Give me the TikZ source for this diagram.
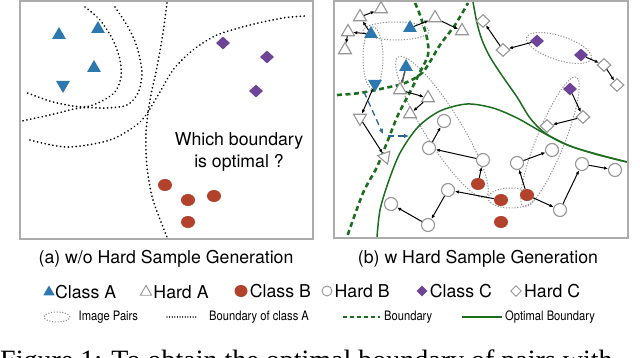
\documentclass[tikz,border=0pt]{standalone}
\usepackage{fontspec}
\setmainfont{Liberation Serif}
\newfontfamily\helv{TeX Gyre Heros}
\newfontfamily\helvnarrow[FakeStretch=0.86]{TeX Gyre Heros}
\usetikzlibrary{shapes.geometric, arrows.meta, positioning, backgrounds}
\definecolor{clsblue}{RGB}{46,120,176}
\definecolor{clsred}{RGB}{178,66,44}
\definecolor{clspurple}{RGB}{110,68,150}
\definecolor{bndgreen}{RGB}{28,110,30}
\definecolor{hardgray}{RGB}{150,150,150}
\definecolor{framegray}{RGB}{172,172,172}

\begin{document}
\begin{tikzpicture}[
  x=1pt, y=-1pt,
  clsA/.style={regular polygon, regular polygon sides=3, fill=clsblue, inner sep=0pt, minimum size=16pt},
  clsAdown/.style={clsA, shape border rotate=180},
  hardA/.style={regular polygon, regular polygon sides=3, draw=hardgray, fill=white,
               line width=1.1pt, inner sep=0pt, minimum size=15pt},
  hardAdown/.style={hardA, shape border rotate=180},
  clsB/.style={ellipse, fill=clsred, inner sep=0pt, minimum width=14pt, minimum height=12pt},
  hardB/.style={circle, draw=hardgray, fill=white, line width=1.1pt, inner sep=0pt, minimum size=13pt},
  clsC/.style={diamond, fill=clspurple, inner sep=0pt, minimum width=14pt, minimum height=13pt},
  hardC/.style={diamond, draw=hardgray, fill=white, line width=1.1pt, inner sep=0pt,
               minimum width=14pt, minimum height=13pt},
  pair/.style={ellipse, draw=gray!85, line width=1pt, dash pattern=on 1.2pt off 1.6pt, inner sep=0pt},
  bnd/.style={line width=1.9pt, dash pattern=on 0.01pt off 3.9pt, line cap=round},
  gbnd/.style={draw=bndgreen, line width=2.6pt, dash pattern=on 5pt off 3.5pt},
  obnd/.style={draw=bndgreen, line width=1.5pt},
  arr/.style={-{Latex[length=4pt, width=3.5pt]}, line width=1pt, black},
  pull/.style={-{Latex[length=5pt, width=4.5pt]}, draw=clsblue!85!black, line width=1.3pt,
               dash pattern=on 6pt off 4pt},
  panel/.style={draw=framegray, line width=1.5pt, inner sep=0pt},
  lab/.style={font=\helv\fontsize{17.7}{22}\selectfont, align=center},
  legtxt/.style={font=\helv\fontsize{17.7}{21}\selectfont, inner sep=0pt, anchor=west},
  small/.style={font=\helvnarrow\fontsize{13}{15}\selectfont, inner sep=0pt, anchor=west},
]
\path[use as bounding box] (0,0) rectangle (640,358);

\node[panel, minimum width=293pt, minimum height=238pt] (panA) at (166.5,120) {};
\node[panel, minimum width=294pt, minimum height=237pt] (panB) at (481,119.5) {};

\node[clsA] (pa1) at (59,35) {};
\node[clsA] (pa2) at (98,29) {};
\node[clsA] (pa3) at (94,68) {};
\node[clsAdown] (pa4) at (63,85) {};
\node[clsC] (pc1) at (223,43) {};
\node[clsC] (pc2) at (267,57) {};
\node[clsC] (pc3) at (256,91) {};
\node[clsB] (pb1) at (165,185) {};
\node[clsB] (pb2) at (188,200) {};
\node[clsB] (pb3) at (214,196) {};
\node[clsB] (pb4) at (188,222) {};
\node[lab] (ask) at (239,151.5) {Which boundary\\is optimal ?};

\node[clsA] (a1) at (371,34) {};
\node[clsA] (a2) at (410,28) {};
\node[clsA] (a3) at (406,67) {};
\node[clsAdown] (a4) at (375,84) {};
\node[hardA] (ha1) at (381,9) {};
\node[hardA] (ha2) at (360,17) {};
\node[hardA] (ha3) at (348,32) {};
\node[hardA] (ha4) at (345,50) {};
\node[hardA] (ha5) at (435,18) {};
\node[hardA] (ha6) at (462,31) {};
\node[hardA] (ha7) at (400,90) {};
\node[hardA] (ha8) at (428,98) {};
\node[hardA] (ha9) at (410,114) {};
\node[hardAdown] (ha10) at (360,118) {};
\node[hardA, shape border rotate=200] (ha11) at (385,157) {};

\node[clsB] (b1) at (478,184) {};
\node[clsB] (b2) at (501,200) {};
\node[clsB] (b3) at (527,195) {};
\node[clsB] (b4) at (501,222) {};
\node[hardB] (hb1) at (444,121) {};
\node[hardB] (hb2) at (429,148) {};
\node[hardB] (hb3) at (483,160) {};
\node[hardB] (hb4) at (448,190) {};
\node[hardB] (hb5) at (391,204) {};
\node[hardB] (hb6) at (428,225) {};
\node[hardB] (hb7) at (517,163) {};
\node[hardB] (hb8) at (552,150) {};
\node[hardB] (hb9) at (560,210) {};
\node[hardB] (hb10) at (582,164) {};
\node[hardB] (hb11) at (615,170) {};

\node[clsC] (c1) at (537,41) {};
\node[clsC] (c2) at (581,55) {};
\node[clsC] (c3) at (570,89) {};
\node[hardC] (hc1) at (483,21) {};
\node[hardC] (hc2) at (503,50) {};
\node[hardC] (hc3) at (604,65) {};
\node[hardC] (hc4) at (617,85) {};
\node[hardC] (hc5) at (583,117) {};
\node[hardC] (hc6) at (547,126) {};

\begin{scope}[on background layer]
\fill[white] (0,0) rectangle (640,358);
\draw[bnd] plot[smooth] coordinates {(85,7) (100,20) (113,40) (120,60) (121,77) (115,92) (100,102) (83,107) (53,102) (25,92)};
\draw[bnd] plot[smooth] coordinates {(115,7) (128,27) (137,47) (142,73) (138,93) (127,105) (107,108) (80,108) (50,115) (22,121)};
\draw[bnd] plot[smooth] coordinates {(30,140) (67,147) (110,140) (140,122) (157,97) (173,70) (193,50) (217,35) (250,25) (283,18) (305,16)};
\draw[bnd] plot[smooth] coordinates {(167,3) (163,33) (157,67) (150,100) (146,133) (147,167) (153,200) (167,237)};

\node[pair, minimum width=66pt, minimum height=18pt] (pr1) at (396,31) {};
\node[pair, minimum width=20pt, minimum height=62pt] (pr2) at (373,58) {};
\node[pair, minimum width=165pt, minimum height=36pt, rotate=-58] (pr3) at (442,127) {};
\node[pair, minimum width=68pt, minimum height=24pt, rotate=-18] (pr4) at (559,48) {};
\node[pair, minimum width=140pt, minimum height=28pt, rotate=68] (pr5) at (550,142) {};
\node[pair, minimum width=46pt, minimum height=20pt] (pr6) at (511,198) {};

\draw[gbnd] plot[smooth] coordinates {(337,95) (360,93) (385,88) (405,83) (423,72) (440,45) (455,25) (468,3)};
\draw[gbnd] plot[smooth] coordinates {(415,3) (420,15) (427,38) (428,55) (420,72) (410,92) (398,115) (388,140) (377,167) (363,193) (347,237)};
\draw[obnd] plot[smooth] coordinates {(473,2) (477,23) (482,40) (490,57) (503,77) (517,97) (530,118) (545,133) (570,146) (600,155) (627,162)};
\draw[obnd] plot[smooth] coordinates {(377,237) (380,210) (388,183) (400,153) (418,127) (440,111) (467,104) (493,108) (517,118) (540,131) (565,144) (595,154) (627,162)};
\end{scope}

\draw[arr] (a1) -- (ha2);
\draw[arr] (a1) -- (ha3);
\draw[arr] (ha3) -- (ha4);
\draw[arr] (ha2) -- (ha1);
\draw[arr] (a2) -- (ha5);
\draw[arr] (ha5) -- (ha6);
\draw[arr, draw=black!65, line width=1.6pt] (a3) -- (ha7);
\draw[arr] (ha7) -- (ha8);
\draw[arr] (ha8) -- (ha9);
\draw[arr] (a4) -- (ha10);
\draw[arr] (ha10) -- (ha11);

\coordinate (mv1) at (364,92);
\coordinate (mv2) at (383,134);
\coordinate (mv3) at (388,136);
\coordinate (mv4) at (409,136);
\draw[pull] (mv1) -- (mv2);
\draw[pull] (mv3) -- (mv4);

\draw[arr] (b1) -- (hb3);
\draw[arr] (hb3) -- (hb2);
\draw[arr] (hb2) -- (hb1);
\draw[arr] (b2) -- (hb4);
\draw[arr] (hb4) -- (hb6);
\draw[arr] (hb6) -- (hb5);
\draw[arr] (b3) -- (hb7);
\draw[arr] (hb7) -- (hb8);
\draw[arr] (b3) -- (hb9);
\draw[arr] (hb9) -- (hb10);
\draw[arr] (hb10) -- (hb11);

\draw[arr] (c1) -- (hc2);
\draw[arr] (hc2) -- (hc1);
\draw[arr] (c2) -- (hc3);
\draw[arr] (hc3) -- (hc4);
\draw[arr] (c3) -- (hc5);
\draw[arr] (hc5) -- (hc6);

\node[lab] (labA) at (166,259) {(a) w/o Hard Sample Generation};
\node[lab] (labB) at (478,259) {(b) w Hard Sample Generation};

\node[clsA, minimum size=13pt] (lgA) at (49,292) {};
\node[legtxt, right=2pt of lgA] (lgAtxt) {Class A};
\node[hardA, minimum size=13pt, line width=0.9pt] (lgHA) at (146,292) {};
\node[legtxt, right=3pt of lgHA] (lgHAtxt) {Hard A};
\node[clsB, minimum width=13pt, minimum height=12pt] (lgB) at (241,291) {};
\node[legtxt, right=2pt of lgB] (lgBtxt) {Class B};
\node[hardB, minimum size=10pt, line width=0.9pt] (lgHB) at (327,291) {};
\node[legtxt, right=2pt of lgHB] (lgHBtxt) {Hard B};
\node[clsC, minimum width=11pt, minimum height=11pt] (lgC) at (422,291) {};
\node[legtxt, right=2pt of lgC] (lgCtxt) {Class C};
\node[hardC, minimum width=11pt, minimum height=11pt, line width=0.9pt] (lgHC) at (516,291) {};
\node[legtxt, right=2pt of lgHC] (lgHCtxt) {Hard C};

\node[pair, minimum width=26pt, minimum height=10pt] (lgpair) at (57,317) {};
\node[small, right=8pt of lgpair] (lgpairtxt) {Image Pairs};
\coordinate (lgd1) at (167,317);
\coordinate (lgd2) at (198,317);
\draw[bnd, line width=1.2pt, dash pattern=on 0.01pt off 2.6pt] (lgd1) -- (lgd2);
\node[small, right=11pt of lgd2] (lgdtxt) {Boundary of class A};
\coordinate (lgg1) at (343,317);
\coordinate (lgg2) at (380,317);
\draw[gbnd, line width=2.2pt, dash pattern=on 4pt off 3pt] (lgg1) -- (lgg2);
\node[small, right=4pt of lgg2] (lggtxt) {Boundary};
\coordinate (lgo1) at (462,317);
\coordinate (lgo2) at (502,317);
\draw[obnd] (lgo1) -- (lgo2);
\node[small, right=3pt of lgo2] (lgotxt) {Optimal Boundary};

\node[anchor=base west, inner sep=0pt, font=\fontsize{28}{30}\selectfont] (caption) at (0,369)
  {Figure 1: To obtain the optimal boundary of pairs with};
\end{tikzpicture}
\end{document}
